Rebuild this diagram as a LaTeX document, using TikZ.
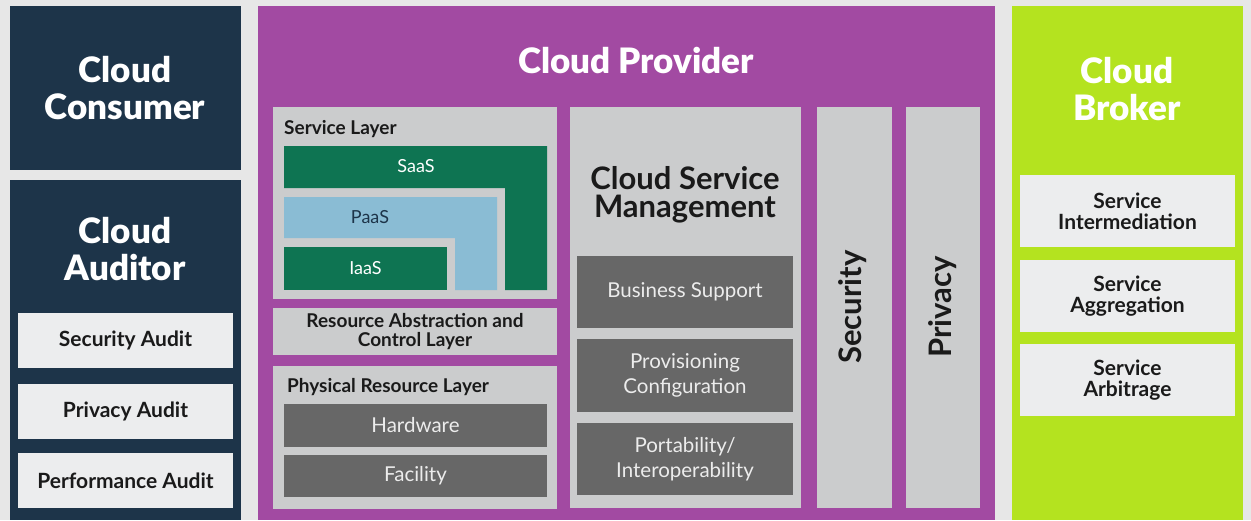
\documentclass[tikz,border=0pt]{standalone}
\usepackage{fontspec}
\setmainfont{Lato}
\newfontfamily\heavy{Lato Black}
\usetikzlibrary{fit}
\definecolor{bg}{HTML}{E7E7E7}
\definecolor{navy}{HTML}{1D3449}
\definecolor{purp}{HTML}{A24AA2}
\definecolor{lime}{HTML}{B4E31F}
\definecolor{lgray}{HTML}{CBCCCD}
\definecolor{wbox}{HTML}{ECEDEE}
\definecolor{dgray}{HTML}{676767}
\definecolor{saas}{HTML}{0E7452}
\definecolor{paas}{HTML}{8ABCD4}
\definecolor{txt}{HTML}{1A1A1A}
\definecolor{ltxt}{HTML}{ECECEC}
\begin{document}
\begin{tikzpicture}[x=1pt,y=-1pt,
  area/.style={inner sep=0pt, outer sep=0pt, draw=none},
  bigtitle/.style={text=white, align=center, inner sep=0pt, font=\fontsize{35}{37}\selectfont\heavy},
  auditlbl/.style={text=txt, align=center, inner sep=0pt, font=\fontsize{21}{21}\selectfont\bfseries},
  brokerlbl/.style={text=txt, align=center, inner sep=0pt, font=\fontsize{21}{21}\selectfont\bfseries},
  layerlbl/.style={text=txt, inner sep=0pt, font=\fontsize{19}{18.5}\selectfont\bfseries},
  lighttxt/.style={text=ltxt, align=center, inner sep=0pt, font=\fontsize{20.5}{25}\selectfont},
  xaas/.style={inner sep=0pt, font=\fontsize{18}{20}\selectfont},
  vert/.style={text=txt, rotate=90, inner sep=0pt, font=\fontsize{31}{31}\selectfont\bfseries}]
\fill[bg] (0,0) rectangle (1251,520);
\useasboundingbox (0,0) rectangle (1251,520);

% Consumer / Auditor
\node[area, fill=navy, fit={(10,6) (241,170)}] (consumer) {};
\node[bigtitle] (consT) at (125,88) {Cloud\\Consumer};
\node[area, fill=navy, fit={(10,180) (241,520)}] (auditor) {};
\node[bigtitle] (audT) at (125,249) {Cloud\\Auditor};
\node[area, fill=wbox, fit={(18,313) (233,368)}] (secA) {};
\node[auditlbl] at (secA) {Security Audit};
\node[area, fill=wbox, fit={(18,384) (233,439)}] (privA) {};
\node[auditlbl] at (privA) {Privacy Audit};
\node[area, fill=wbox, fit={(18,453) (233,508)}] (perfA) {};
\node[auditlbl] at (perfA) {Performance Audit};

% Provider
\node[area, fill=purp, fit={(258,6) (995,520)}] (provider) {};
\node[bigtitle] (provT) at (636,60) {Cloud Provider};

\node[area, fill=lgray, fit={(273,107) (557,299)}] (servlayer) {};
\node[layerlbl, anchor=west] (servT) at (284,129) {Service Layer};
\fill[saas] (284,146) -- (547,146) -- (547,290) -- (505,290) -- (505,188) -- (284,188) -- cycle;
\node[xaas, text=white] (saasT) at (416,166) {SaaS};
\fill[paas] (284,197) -- (497,197) -- (497,290) -- (455,290) -- (455,238) -- (284,238) -- cycle;
\node[xaas, text=navy] (paasT) at (370,217) {PaaS};
\node[area, fill=saas, fit={(284,247) (447,290)}] (iaas) {};
\node[xaas, text=white] at (iaas) {IaaS};

\node[area, fill=lgray, fit={(273,308) (557,355)}] (rac) {};
\node[layerlbl, align=center] at (rac) {Resource Abstraction and\\Control Layer};

\node[area, fill=lgray, fit={(273,366) (557,509)}] (phys) {};
\node[layerlbl, anchor=west] (physT) at (287,387) {Physical Resource Layer};
\node[area, fill=dgray, fit={(284,404) (547,447)}] (hw) {};
\node[lighttxt] at (hw) {Hardware};
\node[area, fill=dgray, fit={(284,455) (547,497)}] (fac) {};
\node[lighttxt] at (fac) {Facility};

\node[area, fill=lgray, fit={(570,107) (801,508)}] (csm) {};
\node[text=txt, align=center, inner sep=0pt, font=\fontsize{31}{28}\selectfont\bfseries] (csmT) at (685,195) {Cloud Service\\Management};
\node[area, fill=dgray, fit={(577,256) (793,328)}] (bus) {};
\node[lighttxt] at (bus) {Business Support};
\node[area, fill=dgray, fit={(577,339) (793,412)}] (prov) {};
\node[lighttxt] at (prov) {Provisioning\\Configuration};
\node[area, fill=dgray, fit={(577,423) (793,495)}] (port) {};
\node[lighttxt] at (port) {Portability/\\Interoperability};

\node[area, fill=lgray, fit={(817,107) (892,508)}] (secCol) {};
\node[vert] (secT) at (853,307) {Security};
\node[area, fill=lgray, fit={(906,107) (980,508)}] (privCol) {};
\node[vert] (privT) at (943,307) {Privacy};

% Broker
\node[area, fill=lime, fit={(1012,6) (1243,520)}] (broker) {};
\node[bigtitle] (brokT) at (1127,89) {Cloud\\Broker};
\node[area, fill=wbox, fit={(1020,175) (1235,247)}] (inter) {};
\node[brokerlbl] at (inter) {Service\\Intermediation};
\node[area, fill=wbox, fit={(1020,260) (1235,332)}] (aggr) {};
\node[brokerlbl] at (aggr) {Service\\Aggregation};
\node[area, fill=wbox, fit={(1020,344) (1235,416)}] (arb) {};
\node[brokerlbl] at (arb) {Service\\Arbitrage};
\end{tikzpicture}
\end{document}
